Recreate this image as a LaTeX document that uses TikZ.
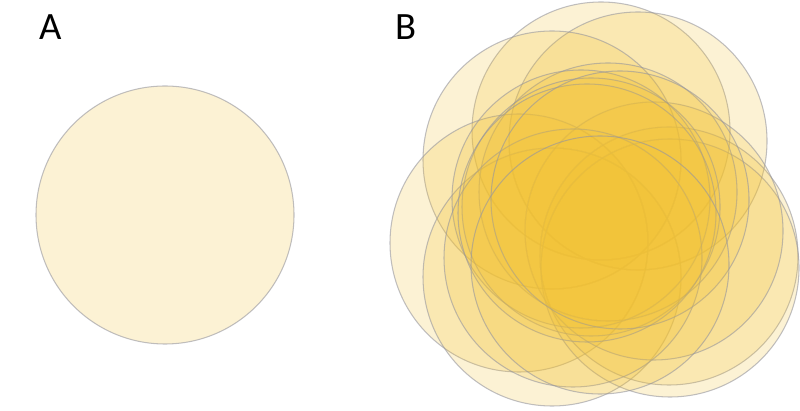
\documentclass[tikz,border=0pt]{standalone}
\usepackage{fontspec}
\setmainfont{Carlito}
\usepackage{tikz}
\usepackage{xcolor}

\definecolor{cellfill}{RGB}{242,194,52}
\definecolor{celledge}{RGB}{150,150,158}

\begin{document}
\begin{tikzpicture}[x=0.02cm,y=-0.02cm,
  cell/.style={fill=cellfill, fill opacity=0.21, draw=celledge, draw opacity=0.6, line width=0.6pt},
  panel/.style={font=\fontsize{22}{24}\selectfont, inner sep=0pt}]
\useasboundingbox (0,0) rectangle (800,411);
% panel A: one cell
\node[panel] (labA) at (51,27) {A};
\draw[cell] (165,215) circle (129);
% panel B: many overlapping cells
\node[panel] (labB) at (406,27) {B};
\foreach \cx/\cy in {601/131, 638/141, 552/160, 519/243, 552/277, 669/256,
  670/268, 654/231, 608/192, 581/199, 591/207, 573/258, 587/213, 620/200, 600/265}
  \draw[cell] (\cx,\cy) circle (129);
\end{tikzpicture}
\end{document}
